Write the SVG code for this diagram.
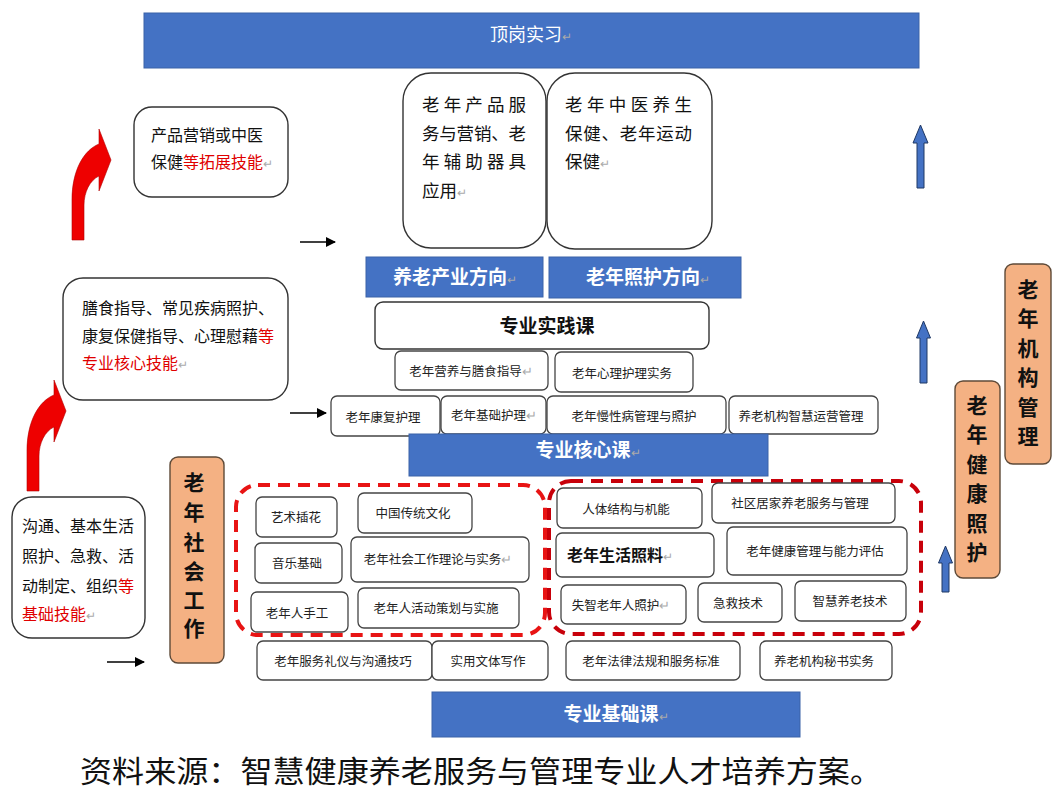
<svg xmlns="http://www.w3.org/2000/svg" width="1057" height="793" viewBox="0 0 1057 793">
<defs>
<style>
text{font-family:"Noto Sans CJK SC","Noto Sans",sans-serif;}
.bar{fill:#4472C4;stroke:#3A62A8;stroke-width:1;}
.bt{fill:#fff;font-weight:bold;font-size:19px;text-anchor:middle;}
.box{fill:#fff;stroke:#333;stroke-width:1.4;}
.sb{fill:#fff;stroke:#444;stroke-width:1.3;}
.st{font-size:12.5px;fill:#222;text-anchor:middle;}
.lt{font-size:16px;fill:#111;}
.red{fill:#e00000;}
.pm{fill:#aaa;font-weight:normal;}
.or{fill:#F4B183;stroke:#5e4a38;stroke-width:1.4;}
.vt{font-size:21px;font-weight:bold;fill:#111;text-anchor:middle;}
.dash1{fill:none;stroke:#e81414;stroke-width:4;stroke-dasharray:12 8;}
.dash2{fill:none;stroke:#c8000a;stroke-width:4;stroke-dasharray:12 8;}
.ra{fill:#ee0000;stroke:#b00000;stroke-width:0.6;}
.ba{fill:#4472C4;stroke:#1F3864;stroke-width:1;}
.conn{stroke:#000;stroke-width:1.5;fill:none;}
</style>
<marker id="ah" viewBox="0 0 10 10" refX="9" refY="5" markerWidth="10" markerHeight="10" markerUnits="userSpaceOnUse" orient="auto">
<path d="M0,0 L10,5 L0,10 Z" fill="#000"/>
</marker>
</defs>

<g id="top-bar">
<rect class="bar" x="144" y="13" width="775" height="55"/>
<text x="531" y="41" font-size="18" fill="#fff" text-anchor="middle">顶岗实习<tspan class="pm" font-size="12">↵</tspan></text>
</g>

<g id="industry-content">
<rect class="box" x="403" y="73" width="143" height="175" rx="28"/>
<text font-size="17.5" fill="#111">
<tspan x="422" y="111" textLength="104" lengthAdjust="spacing">老年产品服</tspan>
<tspan x="422" y="140" textLength="104" lengthAdjust="spacing">务与营销、老</tspan>
<tspan x="422" y="168" textLength="104" lengthAdjust="spacing">年辅助器具</tspan>
<tspan x="422" y="197">应用<tspan class="pm" font-size="12">↵</tspan></tspan>
</text>
</g>

<g id="care-content">
<rect class="box" x="547" y="73" width="165" height="176" rx="28"/>
<text font-size="17.5" fill="#111">
<tspan x="565" y="111" textLength="127" lengthAdjust="spacing">老年中医养生</tspan>
<tspan x="565" y="140" textLength="127" lengthAdjust="spacing">保健、老年运动</tspan>
<tspan x="565" y="168">保健<tspan class="pm" font-size="12">↵</tspan></tspan>
</text>
</g>

<g id="industry-direction">
<rect class="bar" x="366" y="257" width="177" height="40"/>
<text class="bt" x="455" y="284">养老产业方向<tspan class="pm" font-size="12">↵</tspan></text>
</g>
<g id="care-direction">
<rect class="bar" x="549" y="257" width="192" height="41"/>
<text class="bt" x="648" y="284">老年照护方向<tspan class="pm" font-size="12">↵</tspan></text>
</g>

<g id="practice-course">
<rect class="box" x="375" y="302" width="334" height="47" rx="8"/>
<text x="547" y="333" font-size="19" font-weight="bold" fill="#111" text-anchor="middle">专业实践课</text>
</g>

<g id="core-courses">
<rect class="sb" x="395" y="351" width="153" height="39" rx="6"/>
<text class="st" x="471" y="376">老年营养与膳食指导<tspan class="pm">↵</tspan></text>
<rect class="sb" x="555" y="352" width="138" height="40" rx="6"/>
<text class="st" x="622" y="378">老年心理护理实务</text>
<rect class="sb" x="331" y="396" width="109" height="40" rx="6"/>
<text class="st" x="383" y="422">老年康复护理</text>
<rect class="sb" x="441" y="396" width="105" height="38" rx="6"/>
<text class="st" x="494" y="420">老年基础护理<tspan class="pm">↵</tspan></text>
<rect class="sb" x="547" y="396" width="179" height="38" rx="6"/>
<text class="st" x="634" y="421">老年慢性病管理与照护</text>
<rect class="sb" x="729" y="396" width="149" height="38" rx="6"/>
<text class="st" x="801" y="421">养老机构智慧运营管理</text>
</g>

<g id="core-label">
<rect class="bar" x="409" y="434" width="359" height="42"/>
<text class="bt" x="588" y="457">专业核心课<tspan class="pm" font-size="12">↵</tspan></text>
</g>

<g id="social-group">
<rect class="dash1" x="236" y="485" width="309" height="150" rx="22"/>
<rect class="sb" x="256" y="497" width="81" height="40" rx="6"/>
<text class="st" x="296" y="522">艺术插花</text>
<rect class="sb" x="358" y="493" width="114" height="40" rx="6"/>
<text class="st" x="413" y="518">中国传统文化</text>
<rect class="sb" x="255" y="543" width="87" height="40" rx="6"/>
<text class="st" x="297" y="568">音乐基础</text>
<rect class="sb" x="351" y="537" width="178" height="45" rx="6"/>
<text class="st" x="438" y="564">老年社会工作理论与实务<tspan class="pm">↵</tspan></text>
<rect class="sb" x="251" y="592" width="97" height="40" rx="6"/>
<text class="st" x="297" y="618">老年人手工</text>
<rect class="sb" x="358" y="588" width="161" height="40" rx="6"/>
<text class="st" x="436" y="613">老年人活动策划与实施</text>
</g>

<g id="health-group">
<rect class="dash2" x="549" y="481" width="372" height="153" rx="22"/>
<rect class="sb" x="557" y="488" width="145" height="40" rx="6"/>
<text class="st" x="626" y="514">人体结构与机能</text>
<rect class="sb" x="712" y="483" width="183" height="40" rx="6"/>
<text class="st" x="800" y="508">社区居家养老服务与管理</text>
<rect class="sb" x="556" y="533" width="158" height="44" rx="6"/>
<text x="567" y="561" font-size="16" font-weight="bold" fill="#111">老年生活照料<tspan class="pm" font-size="12">↵</tspan></text>
<rect class="sb" x="727" y="527" width="180" height="48" rx="6"/>
<text class="st" x="815" y="556">老年健康管理与能力评估</text>
<rect class="sb" x="561" y="585" width="125" height="39" rx="6"/>
<text class="st" x="621" y="610">失智老年人照护<tspan class="pm">↵</tspan></text>
<rect class="sb" x="698" y="583" width="84" height="39" rx="6"/>
<text class="st" x="738" y="608">急救技术</text>
<rect class="sb" x="795" y="581" width="111" height="40" rx="6"/>
<text class="st" x="850" y="606">智慧养老技术</text>
</g>

<g id="basic-courses">
<rect class="sb" x="257" y="641" width="175" height="39" rx="6"/>
<text class="st" x="343" y="666">老年服务礼仪与沟通技巧</text>
<rect class="sb" x="432" y="641" width="116" height="39" rx="6"/>
<text class="st" x="488" y="666">实用文体写作</text>
<rect class="sb" x="566" y="641" width="174" height="39" rx="6"/>
<text class="st" x="651" y="666">老年法律法规和服务标准</text>
<rect class="sb" x="760" y="641" width="132" height="39" rx="6"/>
<text class="st" x="824" y="666">养老机构秘书实务</text>
</g>

<g id="basic-label">
<rect class="bar" x="432" y="692" width="368" height="45"/>
<text class="bt" x="616" y="721">专业基础课<tspan class="pm" font-size="12">↵</tspan></text>
</g>

<g id="social-work">
<rect class="or" x="170" y="457" width="54" height="206" rx="8"/>
<text class="vt"><tspan x="194" y="490">老</tspan><tspan x="194" y="520">年</tspan><tspan x="194" y="550">社</tspan><tspan x="194" y="579">会</tspan><tspan x="194" y="608">工</tspan><tspan x="194" y="636">作</tspan></text>
</g>

<g id="health-care">
<rect class="or" x="955" y="381" width="45" height="197" rx="8"/>
<text class="vt"><tspan x="977" y="413">老</tspan><tspan x="977" y="442">年</tspan><tspan x="977" y="472">健</tspan><tspan x="977" y="501">康</tspan><tspan x="977" y="531">照</tspan><tspan x="977" y="560">护</tspan></text>
</g>

<g id="institution-mgmt">
<rect class="or" x="1005" y="264" width="46" height="200" rx="8"/>
<text class="vt"><tspan x="1028" y="297">老</tspan><tspan x="1028" y="326">年</tspan><tspan x="1028" y="356">机</tspan><tspan x="1028" y="385">构</tspan><tspan x="1028" y="415">管</tspan><tspan x="1028" y="444">理</tspan></text>
</g>

<g id="skill-extend">
<rect class="box" x="134" y="107" width="154" height="90" rx="18"/>
<text class="lt" font-size="16.5"><tspan x="151" y="141">产品营销或中医</tspan><tspan x="151" y="168">保健<tspan class="red">等拓展技能</tspan><tspan class="pm" font-size="12">↵</tspan></tspan></text>
</g>

<g id="skill-core">
<rect class="box" x="63" y="278" width="225" height="122" rx="20"/>
<text class="lt" font-size="15.5"><tspan x="82" y="314">膳食指导、常见疾病照护、</tspan><tspan x="82" y="342">康复保健指导、心理慰藉<tspan class="red">等</tspan></tspan><tspan x="82" y="369"><tspan class="red">专业核心技能</tspan><tspan class="pm" font-size="12">↵</tspan></tspan></text>
</g>

<g id="skill-basic">
<rect class="box" x="12" y="497" width="133" height="141" rx="20"/>
<text class="lt" font-size="15"><tspan x="22" y="532">沟通、基本生活</tspan><tspan x="22" y="562">照护、急救、活</tspan><tspan x="22" y="592">动制定、组织<tspan class="red">等</tspan></tspan><tspan x="22" y="620"><tspan class="red">基础技能</tspan><tspan class="pm" font-size="12">↵</tspan></tspan></text>
</g>

<g id="connectors">
<line class="conn" x1="300" y1="242" x2="335" y2="242" marker-end="url(#ah)"/>
<line class="conn" x1="290" y1="413" x2="326" y2="413" marker-end="url(#ah)"/>
<line class="conn" x1="107" y1="662" x2="144" y2="662" marker-end="url(#ah)"/>
<path class="ra" d="M72,240 L72,200 C72,170 84,150 99,144 L99,129 L111,160 L99,191 L99,176 C90,180 84,192 84,205 L84,240 Z"/>
<path class="ra" transform="translate(-45,251)" d="M72,240 L72,200 C72,170 84,150 99,144 L99,129 L111,160 L99,191 L99,176 C90,180 84,192 84,205 L84,240 Z"/>
<path class="ba" d="M917,188 L917,143 L913,143 L920.5,125 L928,143 L924,143 L924,188 Z"/>
<path class="ba" d="M920,383 L920,338 L916.5,338 L923.5,321 L930.5,338 L927,338 L927,383 Z"/>
<path class="ba" d="M942,592 L942,563 L938.5,563 L945.5,546 L952.5,563 L949,563 L949,592 Z"/>
</g>

<g id="caption">
<text x="80" y="782" font-size="30" fill="#111" textLength="802" lengthAdjust="spacingAndGlyphs">资料来源：智慧健康养老服务与管理专业人才培养方案。</text>
</g>
</svg>
